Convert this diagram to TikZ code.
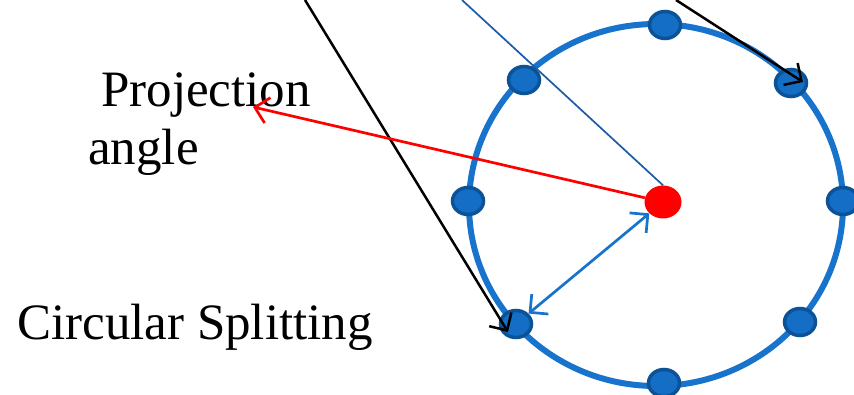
\documentclass[tikz,border=0pt]{standalone}
\usepackage{fontspec}
\setmainfont{Liberation Serif}
\usetikzlibrary{arrows.meta,shapes.geometric}
\definecolor{ringblue}{RGB}{24,115,204}
\definecolor{sitefill}{RGB}{20,110,198}
\definecolor{siteedge}{RGB}{12,82,150}
\definecolor{rayblue}{RGB}{28,92,165}
\begin{document}
\begin{tikzpicture}[x=1pt,y=-1pt,
  site/.style={ellipse, fill=sitefill, draw=siteedge, line width=3.5pt,
    minimum width=31pt, minimum height=27pt, inner sep=0pt},
  hub/.style={ellipse, fill=red, minimum width=37pt, minimum height=33pt, inner sep=0pt},
  barb/.style={-{Straight Barb[length=13pt,width=26pt]}},
  label/.style={font=\fontsize{51}{57}\selectfont, anchor=base west, inner sep=0pt}
]
\useasboundingbox (0,0) rectangle (854,395);
\fill[white] (0,0) rectangle (854,395);

% ring of splitting positions
\draw[ringblue, line width=6pt] (656,205) ellipse [x radius=187, y radius=181];

\node[site] (n)  at (665,25)  {};
\node[site] (nw) at (524,80)  {};
\node[site] (ne) at (791,83)  {};
\node[site] (w)  at (468,201) {};
\node[site] (e)  at (843,201) {};
\node[site] (sw) at (516,324) {};
\node[site] (se) at (800,322) {};
\node[site] (s)  at (664,383) {};

\node[hub] (c) at (663,202) {};

% labels
\node[label] (proj) at (101,107) {Projection};
\node[label] (ang)  at (88,165)  {angle};
\node[label] (circ) at (17,339)  {Circular Splitting};

% free ends at the top edge
\coordinate (t1) at (305,0);
\coordinate (t2) at (462,0);
\coordinate (t3) at (676,0);
\coordinate (ptip) at (253,107);

% incoming rays
\draw[rayblue, line width=1.7pt] (t2) -- (c.north);
\draw[black, line width=2.5pt, barb] (t1) -- ([xshift=-8pt,yshift=-8pt]sw.center);
\draw[black, line width=2.5pt, barb] (t3) -- ([xshift=12pt,yshift=1pt]ne.center);

% projection angle and radius
\draw[red, line width=2.7pt, barb] (c) -- (ptip);
\draw[ringblue, line width=2.7pt, {Straight Barb[length=13pt,width=26pt]}-{Straight Barb[length=13pt,width=26pt]}] (c) -- (sw);
\end{tikzpicture}
\end{document}
